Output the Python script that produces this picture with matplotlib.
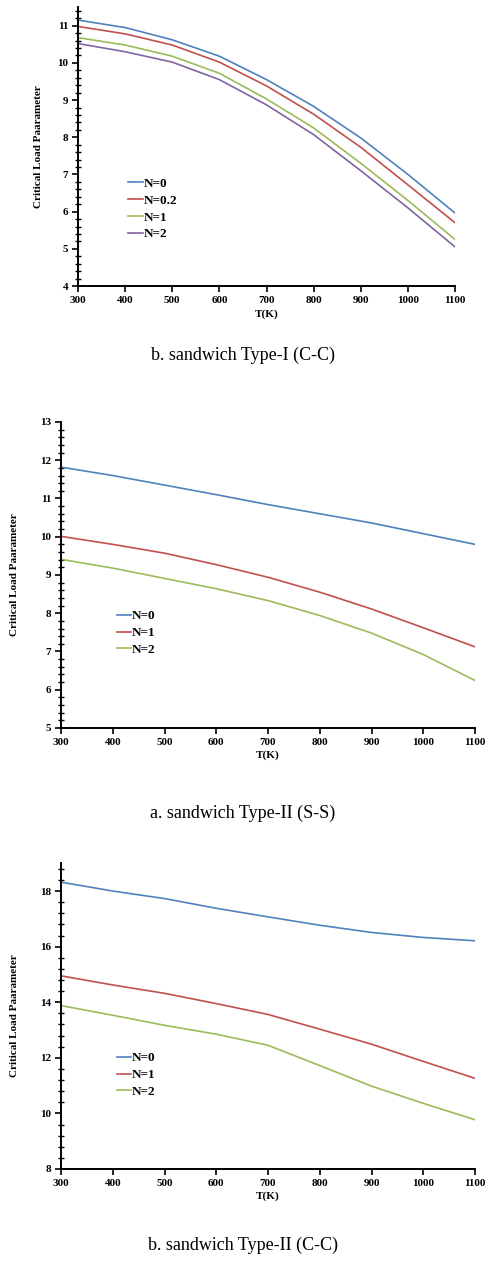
import matplotlib
matplotlib.use("Agg")
import matplotlib.pyplot as plt
from matplotlib.ticker import MultipleLocator

plt.rcParams['font.family'] = 'Liberation Serif'
plt.rcParams['font.weight'] = 'bold'

# temperature values (K)
temps = [300, 400, 500, 600, 700, 800, 900, 1000, 1100]

# sandwich Type-I (C-C)
t1_n0 = [11.15, 10.95, 10.62, 10.18, 9.55, 8.83, 7.98, 7.00, 5.96]
t1_n02 = [10.98, 10.78, 10.48, 10.02, 9.38, 8.62, 7.73, 6.72, 5.70]
t1_n1 = [10.68, 10.48, 10.18, 9.72, 9.03, 8.25, 7.30, 6.30, 5.25]
t1_n2 = [10.52, 10.30, 10.02, 9.55, 8.87, 8.07, 7.10, 6.10, 5.05]

# sandwich Type-II (S-S)
t2ss_n0 = [11.82, 11.60, 11.35, 11.10, 10.84, 10.60, 10.36, 10.08, 9.80]
t2ss_n1 = [10.01, 9.80, 9.57, 9.27, 8.94, 8.55, 8.11, 7.62, 7.12]
t2ss_n2 = [9.41, 9.18, 8.91, 8.64, 8.33, 7.94, 7.48, 6.92, 6.24]

# sandwich Type-II (C-C)
t2cc_n0 = [18.32, 18.00, 17.73, 17.38, 17.07, 16.77, 16.51, 16.33, 16.21]
t2cc_n1 = [14.95, 14.62, 14.32, 13.95, 13.56, 13.03, 12.49, 11.87, 11.26]
t2cc_n2 = [13.88, 13.53, 13.17, 12.85, 12.45, 11.72, 10.98, 10.36, 9.77]

blue = '#4F81BD'
red = '#C0504D'
green = '#9BBB59'
purple = '#8064A2'

fig = plt.figure(figsize=(4.86, 12.68), dpi=100)


def style_axis(ax, ymin, ymax, ymaj, ymin_step):
    ax.set_xlim(300, 1100)
    ax.set_ylim(ymin, ymax)
    ax.spines['top'].set_visible(False)
    ax.spines['right'].set_visible(False)
    ax.spines['left'].set_linewidth(1.4)
    ax.spines['bottom'].set_linewidth(1.4)
    ax.xaxis.set_major_locator(MultipleLocator(100))
    ax.yaxis.set_major_locator(MultipleLocator(ymaj))
    ax.yaxis.set_minor_locator(MultipleLocator(ymin_step))
    ax.tick_params(axis='x', direction='out', length=4, width=1.2, labelsize=8, pad=3)
    ax.tick_params(axis='y', which='major', direction='out', length=4, width=1.2, labelsize=8, pad=3)
    ax.tick_params(axis='y', which='minor', direction='inout', length=4, width=1.0)
    for lbl in ax.get_xticklabels() + ax.get_yticklabels():
        lbl.set_fontweight('bold')
    ax.set_xlabel('T(K)', fontsize=8, fontweight='bold', labelpad=3)
    ax.set_ylabel('Critical Load Paarameter', fontsize=8, fontweight='bold')


def add_legend(ax, xf, yf):
    ax.legend(loc='center left', bbox_to_anchor=(xf, yf), frameon=False, fontsize=9.5,
              handlelength=1.1, handletextpad=0.05, labelspacing=0.35, borderpad=0,
              borderaxespad=0)


# panel 1
ax1 = fig.add_axes([0.1605, 0.7744, 0.776, 0.2200])
ax1.plot(temps, t1_n0, color=blue, lw=1.2, label='N=0')
ax1.plot(temps, t1_n02, color=red, lw=1.2, label='N=0.2')
ax1.plot(temps, t1_n1, color=green, lw=1.2, label='N=1')
ax1.plot(temps, t1_n2, color=purple, lw=1.2, label='N=2')
style_axis(ax1, 4, 11.5, 1, 0.2)
ax1.yaxis.labelpad = 10
add_legend(ax1, 0.133, 0.276)

# panel 2
ax2 = fig.add_axes([0.1255, 0.4259, 0.852, 0.2413])
ax2.plot(temps, t2ss_n0, color=blue, lw=1.2, label='N=0')
ax2.plot(temps, t2ss_n1, color=red, lw=1.2, label='N=1')
ax2.plot(temps, t2ss_n2, color=green, lw=1.2, label='N=2')
style_axis(ax2, 5, 13, 1, 0.2)
ax2.yaxis.labelpad = 15
add_legend(ax2, 0.135, 0.31)

# panel 3
ax3 = fig.add_axes([0.1255, 0.0781, 0.852, 0.2411])
ax3.plot(temps, t2cc_n0, color=blue, lw=1.2, label='N=0')
ax3.plot(temps, t2cc_n1, color=red, lw=1.2, label='N=1')
ax3.plot(temps, t2cc_n2, color=green, lw=1.2, label='N=2')
style_axis(ax3, 8, 19, 2, 0.4)
ax3.yaxis.labelpad = 15
add_legend(ax3, 0.135, 0.307)

# captions
fig.text(0.5, 1 - 355 / 1268, 'b. sandwich Type-I (C-C)', ha='center', va='center',
         fontsize=13, fontweight='normal')
fig.text(0.5, 1 - 813 / 1268, 'a. sandwich Type-II (S-S)', ha='center', va='center',
         fontsize=13, fontweight='normal')
fig.text(0.5, 1 - 1245 / 1268, 'b. sandwich Type-II (C-C)', ha='center', va='center',
         fontsize=13, fontweight='normal')

fig.savefig('out.png', dpi=100)
